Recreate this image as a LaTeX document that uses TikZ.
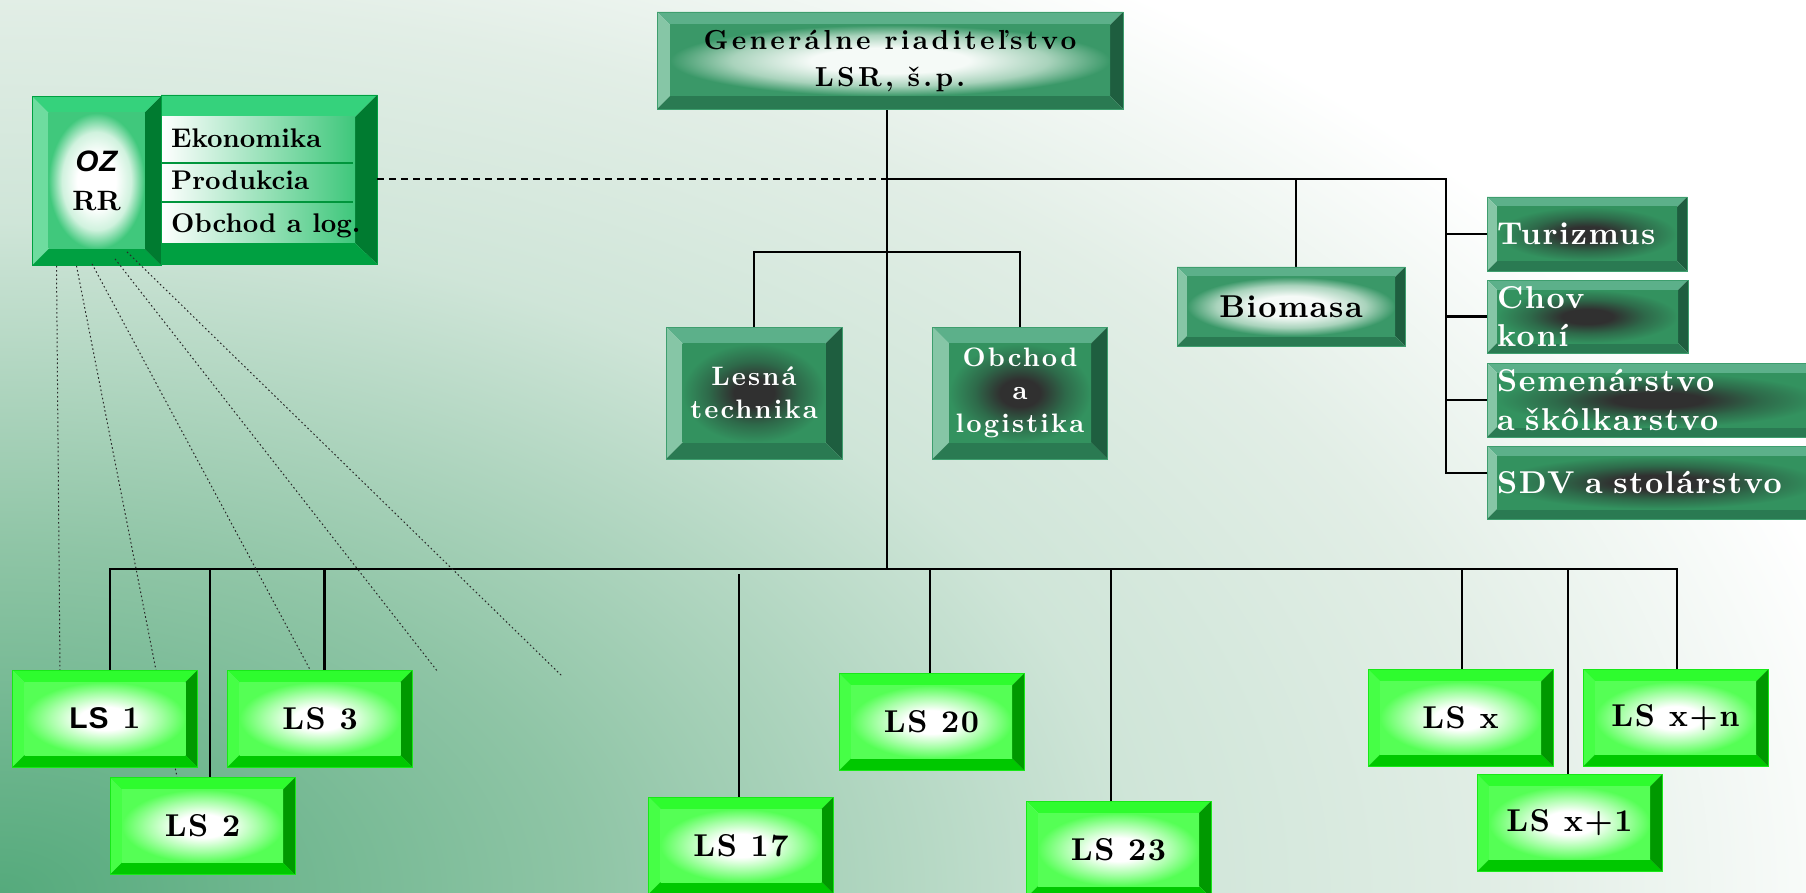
\documentclass[tikz,border=0pt]{standalone}
\usepackage{fontspec}
\setmainfont{lmroman10}[Extension=.otf, UprightFont=*-regular, BoldFont=*-bold, ItalicFont=*-italic, BoldItalicFont=*-bolditalic]
\newfontfamily\spfam{lmroman10}[Extension=.otf, UprightFont=*-regular, BoldFont=*-bold, LetterSpace=5]
\newfontfamily\grfam{lmroman10}[Extension=.otf, UprightFont=*-regular, BoldFont=*-bold, LetterSpace=12]
\newfontfamily\ltfam{lmroman10}[Extension=.otf, UprightFont=*-regular, BoldFont=*-bold, LetterSpace=8]
\newfontfamily\sansfnt{Liberation Sans}[LetterSpace=3]
\usetikzlibrary{calc}
% background colours
\definecolor{bg0}{HTML}{55AA7C}
\definecolor{bg1}{HTML}{8FC5A6}
\definecolor{bg2}{HTML}{CFE5D8}
\definecolor{bg3}{HTML}{E2EEE6}
% LS boxes
\definecolor{lstop}{HTML}{2EFC2E}
\definecolor{lsleft}{HTML}{46FF46}
\definecolor{lsright}{HTML}{009900}
\definecolor{lsbot}{HTML}{00C800}
\definecolor{lsout}{HTML}{18E818}
\definecolor{lsmid}{HTML}{A8FFA8}
\definecolor{lsedge}{HTML}{55FF55}
% dark green boxes
\definecolor{dktop}{HTML}{5CB08A}
\definecolor{dkleft}{HTML}{86C6A6}
\definecolor{dkright}{HTML}{1E5E3F}
\definecolor{dkbot}{HTML}{2A7A52}
\definecolor{dkout}{HTML}{3E9E6E}
\definecolor{lf0}{HTML}{F5FAF7}
\definecolor{lf1}{HTML}{A9D3BC}
\definecolor{lf2}{HTML}{3A9868}
\definecolor{df0}{HTML}{303030}
\definecolor{df1}{HTML}{2E6A4A}
\definecolor{df2}{HTML}{33925F}
% OZ box
\definecolor{oztop}{HTML}{35D27C}
\definecolor{ozleft}{HTML}{6EDC9F}
\definecolor{ozright}{HTML}{007B30}
\definecolor{ozbot}{HTML}{00A041}
\definecolor{ozout}{HTML}{00A041}
\definecolor{ozf0}{HTML}{FFFFFF}
\definecolor{ozf1}{HTML}{D0F2DE}
\definecolor{ozf2}{HTML}{40C87C}
\definecolor{ozrow}{HTML}{00963C}
\definecolor{ozrmid}{HTML}{BDEBD0}
\definecolor{ozredge}{HTML}{3EC77B}
\definecolor{dotcol}{HTML}{2A2A2A}

\pgfdeclareradialshading{bgsh}{\pgfpointorigin}{color(0bp)=(bg0); color(7.75bp)=(bg1); color(15bp)=(bg2); color(20bp)=(bg3); color(25bp)=(white); color(50bp)=(white)}
\pgfdeclareradialshading{lsface}{\pgfpointorigin}{color(0bp)=(white); color(8bp)=(white); color(17bp)=(lsmid); color(25bp)=(lsedge); color(50bp)=(lsedge)}
\pgfdeclareradialshading{lightface}{\pgfpointorigin}{color(0bp)=(lf0); color(9bp)=(lf0); color(18bp)=(lf1); color(25bp)=(lf2); color(50bp)=(lf2)}
\pgfdeclareradialshading{darkface}{\pgfpointorigin}{color(0bp)=(df0); color(7bp)=(df0); color(16bp)=(df1); color(25bp)=(df2); color(50bp)=(df2)}
\pgfdeclareradialshading{ozface}{\pgfpointorigin}{color(0bp)=(ozf0); color(10bp)=(ozf0); color(18bp)=(ozf1); color(25bp)=(ozf2); color(50bp)=(ozf2)}

\pgfdeclarelayer{bgl}
\pgfdeclarelayer{mid}
\pgfsetlayers{bgl,mid,main}

\newcommand\bevpic[6]{%
  \path (path picture bounding box.north west) coordinate (bvnw)
        (path picture bounding box.north east) coordinate (bvne)
        (path picture bounding box.south west) coordinate (bvsw)
        (path picture bounding box.south east) coordinate (bvse);
  \path ([shift={(#1pt,-#1pt)}]bvnw) coordinate (bvinw)
        ([shift={(-#1pt,-#1pt)}]bvne) coordinate (bvine)
        ([shift={(#1pt,#1pt)}]bvsw) coordinate (bvisw)
        ([shift={(-#1pt,#1pt)}]bvse) coordinate (bvise);
  \fill[#2] (bvnw) -- (bvne) -- (bvine) -- (bvinw) -- cycle;
  \fill[#3] (bvnw) -- (bvinw) -- (bvisw) -- (bvsw) -- cycle;
  \fill[#4] (bvne) -- (bvse) -- (bvise) -- (bvine) -- cycle;
  \fill[#5] (bvsw) -- (bvisw) -- (bvise) -- (bvse) -- cycle;
  \shade[shading=#6] (bvinw) rectangle (bvise);
}

\newcommand\lsfnt{\spfam\fontsize{31.6}{38}\selectfont\bfseries}
\newcommand\wfnt{\spfam\fontsize{31.6}{38.5}\selectfont\bfseries}
\newcommand\ltfnt{\ltfam\fontsize{26.7}{33}\selectfont\bfseries}
\newcommand\grfnt{\grfam\fontsize{27.5}{37}\selectfont\bfseries}
\newcommand\rowfnt{\fontsize{27}{32}\selectfont\bfseries}
\newcommand\ozfnt{\fontsize{28}{39}\selectfont\bfseries}

\tikzset{
  bvd/.store in=\bvd, bvd=12,
  base/.style={inner sep=0pt, line width=0.8pt},
  lsbox/.style={base, minimum width=185pt, minimum height=97pt, draw=lsout,
    font=\lsfnt, text=black,
    path picture={\bevpic{12}{lstop}{lsleft}{lsright}{lsbot}{lsface}}},
  ltbox/.style={base, draw=dkout, text=black,
    path picture={\bevpic{\bvd}{dktop}{dkleft}{dkright}{dkbot}{lightface}}},
  dkbox/.style={base, draw=dkout, text=white,
    path picture={\bevpic{\bvd}{dktop}{dkleft}{dkright}{dkbot}{darkface}}},
  sidebox/.style={dkbox, bvd=10, inner xsep=10pt, align=left, font=\wfnt},
  conn/.style={line width=2.2pt, black},
  dashline/.style={line width=1.6pt, black, dash pattern=on 7pt off 5pt},
  dotline/.style={line width=1pt, dotcol, dash pattern=on 1.6pt off 2.6pt},
  rowtxt/.style={inner sep=0pt, font=\rowfnt, text=black},
}

\begin{document}
\begin{tikzpicture}[x=1pt,y=-1pt]
\useasboundingbox (0,0) rectangle (1806,893);

\begin{pgfonlayer}{bgl}
  \fill[white] (0,0) rectangle (1806,893);
  \begin{scope}
    \clip (0,0) rectangle (1806,893);
    \shade[shading=bgsh] (0,893) ellipse [x radius=1900pt, y radius=1120pt];
  \end{scope}
  \fill[white] (1419,0) rectangle (1806,21);

  % OZ RR composite box
  \node[base, draw=ozout, minimum width=129pt, minimum height=169pt,
        font=\ozfnt, align=center, text=black,
        path picture={\bevpic{16.5}{oztop}{ozleft}{ozright}{ozbot}{ozface}}]
        (oz) at (96.5,181) {{\sansfnt\fontsize{29.5}{39}\selectfont\itshape OZ}\\RR};
  \node[base, draw=ozout, minimum width=216pt, minimum height=169pt,
        path picture={
          \path (path picture bounding box.north west) coordinate (rnw)
                (path picture bounding box.north east) coordinate (rne)
                (path picture bounding box.south west) coordinate (rsw)
                (path picture bounding box.south east) coordinate (rse);
          \fill[oztop] (rnw) -- (rne) -- ([shift={(-22pt,-22pt)}]rne) -- ([shift={(0pt,-22pt)}]rnw) -- cycle;
          \fill[ozright] (rne) -- (rse) -- ([shift={(-22pt,21pt)}]rse) -- ([shift={(-22pt,-22pt)}]rne) -- cycle;
          \fill[ozbot] (rsw) -- (rse) -- ([shift={(-22pt,21pt)}]rse) -- ([shift={(0pt,21pt)}]rsw) -- cycle;
          \shade[left color=white, middle color=ozrmid, right color=ozredge]
                ([shift={(0pt,-22pt)}]rnw) rectangle ([shift={(-22pt,21pt)}]rse);
          \draw[ozrow, line width=2pt] ([shift={(0pt,-68pt)}]rnw) -- ++(192pt,0pt);
          \draw[ozrow, line width=2pt] ([shift={(0pt,-107pt)}]rnw) -- ++(192pt,0pt);
        }] (ozr) at (269,179.5) {};
  \node[rowtxt, anchor=base west] (eko) at (171,148) {Ekonomika};
  \node[rowtxt, anchor=base west] (prod) at (171,190) {Produkcia};
  \node[rowtxt, anchor=base west] (obl) at (171,233) {Obchod a log.};
\end{pgfonlayer}

% top level
\node[ltbox, bvd=13, minimum width=466pt, minimum height=97pt, font=\grfnt, align=center]
  (gr) at (890,60.5) {Generálne riaditeľstvo\\LSR, š.p.};
\node[dkbox, bvd=16.5, minimum width=176pt, minimum height=132pt, font=\ltfnt, align=center]
  (lt) at (754,393) {Lesná\\technika};
\node[dkbox, bvd=16.5, minimum width=175pt, minimum height=132pt, font=\ltfnt, align=center]
  (ol) at (1020,393) {Obchod\\a\\logistika};
\node[ltbox, bvd=10, minimum width=228pt, minimum height=79pt, font=\wfnt]
  (bio) at (1291,306.5) {Biomasa};
\node[sidebox, text width=180pt, minimum height=74pt] (tur) at (1587,234) {Turizmus};
\node[sidebox, text width=181pt, minimum height=73pt] (chov) at (1587.5,316.5) {Chov\\koní};
\node[sidebox, text width=323pt, minimum height=74pt] (sem) at (1658.5,400) {Semenárstvo\\a škôlkarstvo};
\node[sidebox, text width=323pt, minimum height=73pt] (sdv) at (1658.5,482.5) {SDV a stolárstvo};

% LS boxes
\node[lsbox] (ls1) at (105,718.5) {{\sansfnt\fontsize{30}{36}\selectfont LS} 1};
\node[lsbox] (ls2) at (202.5,826) {LS 2};
\node[lsbox] (ls3) at (320,718.5) {LS 3};
\node[lsbox] (ls17) at (741,845.5) {LS 17};
\node[lsbox] (ls20) at (931.5,722) {LS 20};
\node[lsbox] (ls23) at (1118.5,849.5) {LS 23};
\node[lsbox] (lsx) at (1460.5,718) {LS x};
\node[lsbox] (lsxn) at (1675.5,718) {LS x+n};
\node[lsbox] (lsx1) at (1569.5,823) {LS x+1};

% connectors
\begin{pgfonlayer}{mid}
  \coordinate (bus) at (0,569);
  \coordinate (h1) at (0,179);
  \coordinate (brk) at (0,252);
  \coordinate (gap17) at (0,574);
  \coordinate (spx) at (1446,0);
  \coordinate (tt) at ([xshift=-3pt]gr.south);
  \coordinate (tj) at (tt |- h1);
  \coordinate (sdvb) at ([yshift=9.5pt]sdv.west);
  \coordinate (biot) at ([xshift=5pt]bio.north);

  \draw[conn] (tt) -- (tt |- bus);
  \draw[dashline] (ozr.east |- tj) -- (tj);
  \draw[conn] (tj) -- (spx |- tj) -- (spx |- sdvb) -- (sdvb);
  \draw[conn] (biot) -- (biot |- tj);
  \draw[conn] (spx |- tur.west) -- (tur.west);
  \draw[conn] (spx |- chov.west) -- (chov.west);
  \draw[conn] (spx |- sem.west) -- (sem.west);
  \draw[conn] (lt.north) -- (lt.north |- brk) -- (ol.north |- brk) -- (ol.north);

  \coordinate (d1) at ([xshift=5pt]ls1.north);
  \coordinate (d2) at ([xshift=7.5pt]ls2.north);
  \coordinate (d3) at ([xshift=4.5pt]ls3.north);
  \coordinate (d17) at ([xshift=-2pt]ls17.north);
  \coordinate (d20) at ([xshift=-1.5pt]ls20.north);
  \coordinate (d23) at ([xshift=-7.5pt]ls23.north);
  \coordinate (dx) at ([xshift=1.5pt]lsx.north);
  \coordinate (dx1) at ([xshift=-1.5pt]lsx1.north);
  \coordinate (dxn) at ([xshift=1.5pt]lsxn.north);

  \draw[conn] (d1) -- (d1 |- bus) -- (dxn |- bus) -- (dxn);
  \foreach \d in {d2,d3,d20,d23,dx,dx1}{\draw[conn] (\d) -- (\d |- bus);}
  \draw[conn] (d17) -- (d17 |- gap17);

  % dotted lines from OZ
  \coordinate (s1) at ([xshift=-40pt]oz.south);
  \coordinate (s2) at ([xshift=-20pt]oz.south);
  \coordinate (s3) at ([xshift=-4.5pt,yshift=2pt]oz.south);
  \coordinate (s4) at ([xshift=18.5pt,yshift=7pt]oz.south);
  \coordinate (s5) at ([xshift=30.5pt,yshift=14pt]oz.south);
  \coordinate (e1) at ([xshift=-45pt]ls1.north);
  \coordinate (e2) at ([xshift=-25.5pt]ls2.north);
  \coordinate (e3) at ([xshift=-10pt]ls3.north);
  \coordinate (f4) at (438,672);
  \coordinate (f5) at (562,676);
  \draw[dotline] (s1) -- (e1);
  \draw[dotline] (s2) -- (e2);
  \draw[dotline] (s3) -- (e3);
  \draw[dotline] (s4) -- (f4);
  \draw[dotline] (s5) -- (f5);
\end{pgfonlayer}
\end{tikzpicture}
\end{document}
